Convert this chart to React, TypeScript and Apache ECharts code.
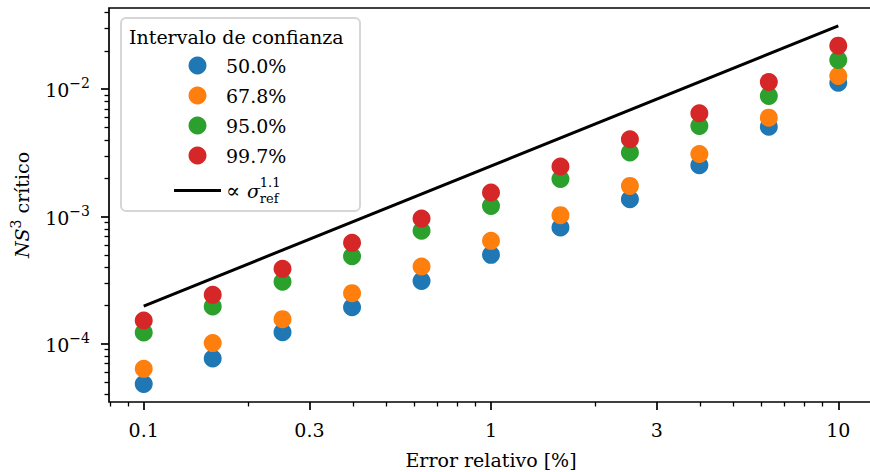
import React, { useEffect, useRef } from 'react';
import * as echarts from 'echarts';

// ---- data ----
const errorPct = [0.1, 0.158, 0.251, 0.398, 0.631, 1, 1.585, 2.512, 3.981, 6.31, 10];
const confLevels = ['50.0%', '67.8%', '95.0%', '99.7%'];
const ns3_500 = [4.83e-5, 7.66e-5, 1.235e-4, 1.94e-4, 3.12e-4, 5.0e-4, 8.19e-4, 1.368e-3, 2.53e-3, 5.08e-3, 1.126e-2];
const ns3_678 = [6.36e-5, 1.013e-4, 1.563e-4, 2.5e-4, 4.05e-4, 6.44e-4, 1.025e-3, 1.74e-3, 3.1e-3, 5.98e-3, 1.272e-2];
const ns3_950 = [1.227e-4, 1.963e-4, 3.07e-4, 4.88e-4, 7.72e-4, 1.212e-3, 1.975e-3, 3.18e-3, 5.15e-3, 8.86e-3, 1.7e-2];
const ns3_997 = [1.524e-4, 2.425e-4, 3.88e-4, 6.21e-4, 9.63e-4, 1.542e-3, 2.47e-3, 4.05e-3, 6.48e-3, 1.141e-2, 2.2e-2];
const fitX = [0.1, 10];
const fitY = [1.98e-4, 3.14e-2];
const fitName = 'fit';

const xTickValues = [0.1, 0.3, 1, 3, 10];
const xMinorTickValues = [0.08, 0.09, 0.2, 0.4, 0.5, 0.6, 0.7, 0.8, 0.9, 2, 4, 5, 6, 7, 8, 9];
const yTickValues = [1e-4, 1e-3, 1e-2];
const yMinorTickValues = [
  4e-5, 5e-5, 6e-5, 7e-5, 8e-5, 9e-5,
  2e-4, 3e-4, 4e-4, 5e-4, 6e-4, 7e-4, 8e-4, 9e-4,
  2e-3, 3e-3, 4e-3, 5e-3, 6e-3, 7e-3, 8e-3, 9e-3,
  2e-2, 3e-2, 4e-2,
];

const seriesValues = [ns3_500, ns3_678, ns3_950, ns3_997];
const colors = ['#1f77b4', '#ff7f0e', '#2ca02c', '#d62728'];

const X_LOG_MIN = -1.1;
const X_LOG_MAX = 1.1;
const Y_LOG_MIN = -4.457;
const Y_LOG_MAX = -1.362;

const FONT = 'DejaVu Serif';

export default function App() {
  const ref = useRef<HTMLDivElement>(null);

  useEffect(() => {
    if (!ref.current) return;
    const chart = echarts.init(ref.current, null, { renderer: 'svg' });

    const majorTick = { show: true, inside: false, length: 8, lineStyle: { color: '#000', width: 1.7 } };
    const minorTick = { show: true, inside: false, length: 4.5, lineStyle: { color: '#000', width: 1.3 } };
    const noLine = { show: false, onZero: false };
    const hidden = {
      axisLine: noLine,
      axisTick: { show: false },
      axisLabel: { show: false },
      splitLine: { show: false },
    };

    const xLabelFmt = (v: number) => {
      const t = xTickValues.find((t) => Math.abs(Math.log10(t) - v) < 1e-6);
      return t === undefined ? '' : String(t);
    };
    const yLabelFmt = (v: number) => `{b|10}{e|−${Math.round(-v)}}`;

    const option: any = {
      animation: false,
      backgroundColor: '#fff',
      grid: {
        left: 109,
        top: 8,
        width: 764,
        height: 394,
        show: true,
        borderColor: '#000',
        borderWidth: 1.7,
        backgroundColor: 'transparent',
        containLabel: false,
        outerBoundsMode: 'none',
      },
      xAxis: [
        {
          type: 'log',
          logBase: 10,
          min: Math.pow(10, X_LOG_MIN),
          max: Math.pow(10, X_LOG_MAX),
          position: 'bottom',
          ...hidden,
        },
        {
          type: 'value',
          min: X_LOG_MIN,
          max: X_LOG_MAX,
          position: 'bottom',
          axisLine: noLine,
          splitLine: { show: false },
          axisTick: { ...majorTick, customValues: xTickValues.map(Math.log10) },
          axisLabel: {
            show: true,
            margin: 18,
            customValues: xTickValues.map(Math.log10),
            formatter: xLabelFmt,
            fontFamily: FONT,
            fontSize: 19,
            color: '#000',
          },
          name: 'Error relativo [%]',
          nameLocation: 'middle',
          nameGap: 48,
          nameTextStyle: { fontFamily: FONT, fontSize: 19, color: '#000' },
        },
        {
          type: 'value',
          min: X_LOG_MIN,
          max: X_LOG_MAX,
          position: 'bottom',
          axisLine: noLine,
          splitLine: { show: false },
          axisLabel: { show: false },
          axisTick: { ...minorTick, customValues: xMinorTickValues.map(Math.log10) },
        },
      ],
      yAxis: [
        {
          type: 'log',
          logBase: 10,
          min: Math.pow(10, Y_LOG_MIN),
          max: Math.pow(10, Y_LOG_MAX),
          position: 'left',
          ...hidden,
        },
        {
          type: 'value',
          min: Y_LOG_MIN,
          max: Y_LOG_MAX,
          position: 'left',
          axisLine: noLine,
          splitLine: { show: false },
          axisTick: { ...majorTick, customValues: yTickValues.map(Math.log10) },
          axisLabel: {
            show: true,
            margin: 19,
            customValues: yTickValues.map(Math.log10),
            formatter: yLabelFmt,
            color: '#000',
            rich: {
              b: { fontFamily: FONT, fontSize: 19, color: '#000', padding: [2, 0, 0, 0] },
              e: { fontFamily: FONT, fontSize: 14, color: '#000', padding: [0, 0, 12, 0] },
            },
          },
          name: '{i|NS}{s|3}{r| crítico}',
          nameLocation: 'middle',
          nameGap: 75,
          nameTextStyle: {
            color: '#000',
            rich: {
              i: { fontFamily: FONT, fontSize: 19, fontStyle: 'italic', color: '#000' },
              s: { fontFamily: FONT, fontSize: 14, color: '#000', padding: [0, 0, 11, 0] },
              r: { fontFamily: FONT, fontSize: 19, color: '#000' },
            },
          },
        },
        {
          type: 'value',
          min: Y_LOG_MIN,
          max: Y_LOG_MAX,
          position: 'left',
          axisLine: noLine,
          splitLine: { show: false },
          axisLabel: { show: false },
          axisTick: { ...minorTick, customValues: yMinorTickValues.map(Math.log10) },
        },
      ],
      legend: {
        orient: 'vertical',
        left: 174,
        top: 56,
        padding: 0,
        itemWidth: 47,
        itemHeight: 18,
        itemGap: 11,
        itemTextGap: 16,
        selectedMode: false,
        data: [
          ...confLevels,
          { name: fitName, icon: 'path://M0,0L47,0L47,3L0,3Z' },
        ],
        textStyle: {
          fontFamily: FONT,
          fontSize: 19,
          color: '#000',
          rich: {
            t: { fontFamily: FONT, fontSize: 21, color: '#000' },
            g: { fontFamily: FONT, fontSize: 19, fontStyle: 'italic', color: '#000' },
            sup: { fontFamily: FONT, fontSize: 13, color: '#000', width: 0, padding: [0, 0, 16, 0] },
            sub: { fontFamily: FONT, fontSize: 13, color: '#000', padding: [16, 0, 0, 0] },
          },
        },
        formatter: (name: string) =>
          name === fitName ? '{t|∝ }{g|σ}{sup|1.1}{sub|ref}' : name,
      },
      graphic: [
        {
          type: 'rect',
          z: 3,
          shape: { x: 121, y: 18, width: 239, height: 193, r: 5 },
          style: { fill: 'rgba(255,255,255,0.8)', stroke: '#d6d6d6', lineWidth: 2 },
        },
        {
          type: 'text',
          z: 4,
          x: 129,
          y: 37,
          style: {
            text: 'Intervalo de confianza',
            fontFamily: FONT,
            fontSize: 19,
            fill: '#000',
            verticalAlign: 'middle',
            align: 'left',
          },
        },
      ],
      series: [
        ...confLevels.map((name, i) => ({
          name,
          type: 'scatter',
          xAxisIndex: 0,
          yAxisIndex: 0,
          symbol: 'circle',
          symbolSize: 18,
          itemStyle: { color: colors[i], opacity: 1 },
          data: errorPct.map((x, j) => [x, seriesValues[i][j]]),
        })),
        {
          name: fitName,
          type: 'line',
          xAxisIndex: 0,
          yAxisIndex: 0,
          symbol: 'none',
          lineStyle: { color: '#000', width: 3 },
          itemStyle: { color: '#000' },
          data: fitX.map((x, j) => [x, fitY[j]]),
        },
      ],
    };

    chart.setOption(option);
    return () => chart.dispose();
  }, []);

  return (
    <div
      ref={ref}
      style={{ position: 'fixed', left: 0, top: 0, width: 870, height: 472, background: '#fff' }}
    />
  );
}
